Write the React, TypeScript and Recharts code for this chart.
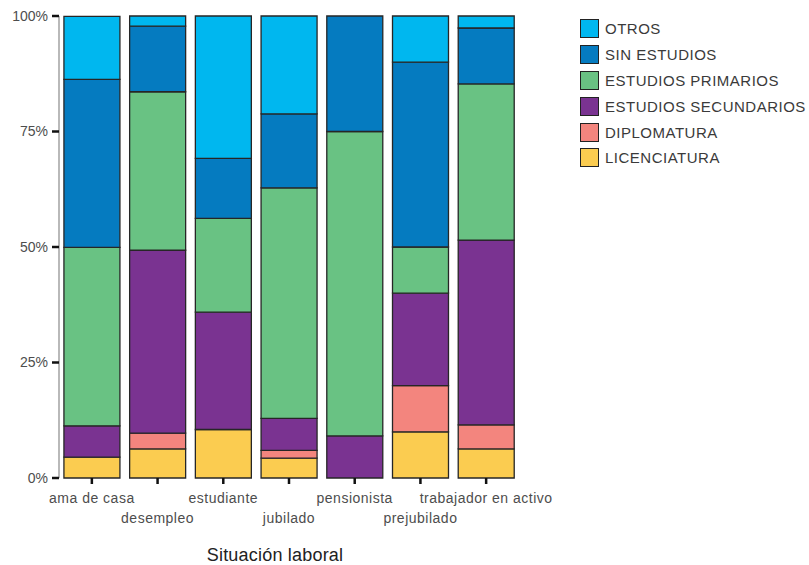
import React from 'react';
import { BarChart, Bar, XAxis, YAxis, Legend } from 'recharts';

const categories = ['ama de casa', 'desempleo', 'estudiante', 'jubilado', 'pensionista', 'prejubilado', 'trabajador en activo'];
const licenciatura = [4.5, 6.3, 10.5, 4.3, 0, 10, 6.3];
const diplomatura = [0, 3.4, 0, 1.7, 0, 10, 5.2];
const secundarios = [6.8, 39.6, 25.4, 6.9, 9.1, 20, 40.0];
const primarios = [38.6, 34.3, 20.3, 49.9, 65.9, 10, 33.8];
const sinEstudios = [36.4, 14.2, 13.0, 16.0, 25, 40, 12.1];
const otros = [13.6, 2.2, 30.8, 21.2, 0, 10, 2.6];
const yTicks = [0, 25, 50, 75, 100];

// bottom-to-top stacking order
const seriesNames = ['LICENCIATURA', 'DIPLOMATURA', 'ESTUDIOS SECUNDARIOS', 'ESTUDIOS PRIMARIOS', 'SIN ESTUDIOS', 'OTROS'];
const seriesValues = [licenciatura, diplomatura, secundarios, primarios, sinEstudios, otros];
const seriesColors = ['#FBCC50', '#F3857E', '#7A3391', '#69C283', '#057BC0', '#00B7EF'];

const data = categories.map((c, i) => {
  const row: Record<string, any> = { cat: c };
  seriesNames.forEach((s, k) => {
    row[s] = seriesValues[k][i];
  });
  return row;
});

const FONT = '"Liberation Sans", Arial, sans-serif';

const XTick = (props: any) => {
  const { x, y, payload, index } = props;
  const dy = index % 2 === 0 ? 17 : 37;
  return (
    <text x={x} y={y + dy} textAnchor="middle" fill="#4d4d4d" fontSize={14} fontFamily={FONT} letterSpacing={0.5}>
      {payload.value}
    </text>
  );
};

const renderLegend = () => {
  const order = seriesNames.map((_, i) => i).reverse();
  return (
    <div style={{ fontFamily: FONT }}>
      {order.map((k) => (
        <div key={seriesNames[k]} style={{ display: 'flex', alignItems: 'center', height: 25.8 }}>
          <div
            style={{
              width: 17,
              height: 17,
              background: seriesColors[k],
              border: '1.5px solid #222',
              boxSizing: 'content-box',
            }}
          />
          <span style={{ marginLeft: 6, fontSize: 15, color: '#3a3a3a', letterSpacing: 0.5 }}>{seriesNames[k]}</span>
        </div>
      ))}
    </div>
  );
};

const renderTitle = (props: any) => {
  const vb = props.viewBox;
  return (
    <text
      x={vb.x + vb.width / 2 - 14}
      y={vb.y + vb.height - 4}
      textAnchor="middle"
      fill="#222"
      fontSize={18}
      fontFamily={FONT}
      letterSpacing={0.2}
    >
      Situación laboral
    </text>
  );
};

export default function App() {
  return (
    <div style={{ position: 'absolute', left: 0, top: 0, width: 809, height: 565, background: '#fff' }}>
      <BarChart
        width={809}
        height={565}
        data={data}
        margin={{ top: 16, right: 290, bottom: 0, left: 0 }}
        barCategoryGap="7.5%"
      >
        <XAxis
          dataKey="cat"
          height={87}
          interval={0}
          axisLine={false}
          tickLine={{ stroke: '#111', strokeWidth: 2.5 }}
          tickSize={6}
          tick={<XTick />}
          label={renderTitle}
        />
        <XAxis
          xAxisId="top"
          dataKey="cat"
          orientation="top"
          height={0}
          tick={false}
          tickLine={false}
          axisLine={{ stroke: '#8a8a8a', strokeWidth: 1.2 }}
        />
        <YAxis
          domain={[0, 100]}
          ticks={yTicks}
          width={59}
          interval={0}
          tickFormatter={(v: number) => `${v}%`}
          tick={{ fill: '#4d4d4d', fontSize: 14, fontFamily: FONT }}
          tickLine={{ stroke: '#111', strokeWidth: 2.5 }}
          tickSize={7}
          tickMargin={4}
          axisLine={{ stroke: '#8a8a8a', strokeWidth: 1.2 }}
        />
        <YAxis
          yAxisId="right"
          orientation="right"
          domain={[0, 100]}
          width={0}
          tick={false}
          tickLine={false}
          axisLine={{ stroke: '#8a8a8a', strokeWidth: 1.2 }}
        />
        {seriesNames.map((s, k) => (
          <Bar
            key={s}
            dataKey={s}
            stackId="a"
            fill={seriesColors[k]}
            stroke="#262626"
            strokeWidth={1.3}
            isAnimationActive={false}
          />
        ))}
        <Legend
          layout="vertical"
          align="center"
          verticalAlign="middle"
          content={renderLegend}
          wrapperStyle={{ left: 580, top: 16, width: 229, height: 160 }}
        />
      </BarChart>
    </div>
  );
}
